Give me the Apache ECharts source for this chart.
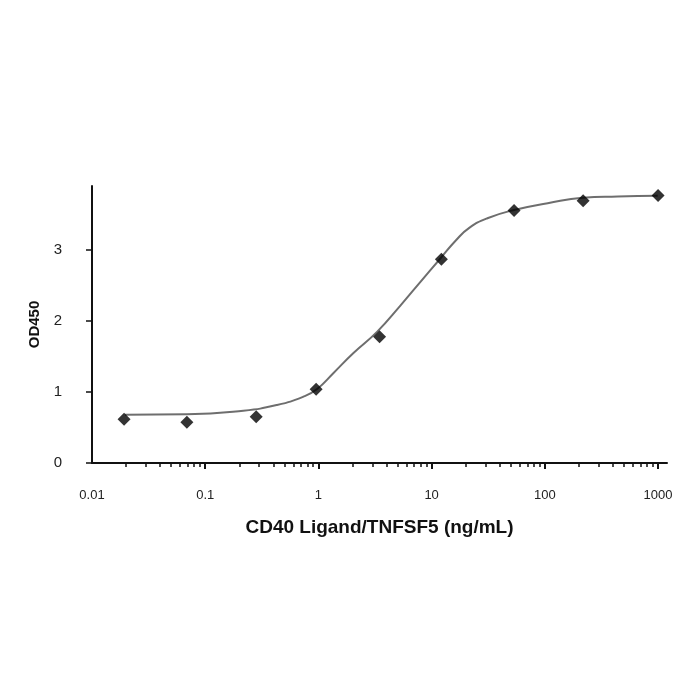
<!DOCTYPE html>
<html>
<head>
<meta charset="utf-8">
<title>CD40 Ligand/TNFSF5 ELISA</title>
<script src="https://cdn.jsdelivr.net/npm/echarts@6/dist/echarts.min.js"></script>
<style>
    html, body { margin: 0; padding: 0; background: #fff; }
    #chart { width: 700px; height: 700px; }
</style>
</head>
<body>
<div id="chart"></div>
<script>
// Measured points (ng/mL vs OD450)
const concentration = [0.0192, 0.0689, 0.282, 0.954, 3.47, 12.2, 53.5, 218, 1000];
const od450 = [0.615, 0.573, 0.652, 1.038, 1.779, 2.869, 3.554, 3.694, 3.765];

// Fitted curve
const fitX = [0.0196, 0.0689, 0.217, 0.431, 0.737, 0.974, 1.36, 2.04, 3.31, 5.32, 8.0, 12.0, 16.5, 21.5, 31.1, 53.5, 106, 216, 440, 993];
const fitY = [0.68, 0.685, 0.737, 0.817, 0.934, 1.042, 1.268, 1.549, 1.85, 2.22, 2.554, 2.883, 3.14, 3.31, 3.446, 3.563, 3.658, 3.735, 3.751, 3.761];

// Axis ticks
const xLabels = [0.01, 0.1, 1, 10, 100, 1000];
const xMajorTicks = [0.1, 1, 10, 100, 1000];
const xDecades = [0.01, 0.1, 1, 10, 100];
const yTicks = [0, 1, 2, 3];

const xMinorTicks = [];
for (const d of xDecades) {
    for (let k = 2; k <= 9; k++) {
        xMinorTicks.push(+(k * d).toPrecision(3));
    }
}

const font = 'Liberation Sans, Arial, sans-serif';
const chart = echarts.init(document.getElementById('chart'));

chart.setOption({
    backgroundColor: '#fff',
    animation: false,
    grid: { left: 92, right: 33, top: 186, bottom: 237 },
    xAxis: [{
        type: 'log',
        logBase: 10,
        min: 0.01,
        max: 1200,
        name: 'CD40 Ligand/TNFSF5 (ng/mL)',
        nameLocation: 'middle',
        nameGap: 55,
        nameTextStyle: { fontFamily: font, fontSize: 19, fontWeight: 'bold', color: '#111' },
        axisLine: { show: true, lineStyle: { color: '#111', width: 2 } },
        axisTick: { show: true, customValues: xMajorTicks, length: 6, lineStyle: { color: '#111', width: 2 } },
        axisLabel: {
            customValues: xLabels,
            margin: 26,
            fontFamily: font,
            fontSize: 13,
            color: '#222',
            formatter: v => String(v)
        },
        splitLine: { show: false },
        minorTick: { show: false }
    }, {
        // minor ticks only
        type: 'log',
        logBase: 10,
        min: 0.01,
        max: 1200,
        position: 'bottom',
        axisLine: { show: false },
        axisTick: { show: true, customValues: xMinorTicks, length: 4, lineStyle: { color: '#111', width: 1.5 } },
        axisLabel: { show: false },
        splitLine: { show: false }
    }],
    yAxis: {
        type: 'value',
        min: 0,
        max: 3.9,
        name: 'OD450',
        nameLocation: 'middle',
        nameGap: 40,
        nameTextStyle: { fontFamily: font, fontSize: 15, fontWeight: 'bold', color: '#111' },
        axisLine: { show: true, lineStyle: { color: '#111', width: 2 } },
        axisTick: { show: true, customValues: yTicks, length: 6, lineStyle: { color: '#111', width: 1.5 } },
        axisLabel: { customValues: yTicks, margin: 30, fontFamily: font, fontSize: 15, color: '#222' },
        splitLine: { show: false }
    },
    series: [{
        name: 'Fit',
        type: 'line',
        data: fitX.map((x, i) => [x, fitY[i]]),
        smooth: 0.5,
        showSymbol: false,
        lineStyle: { color: '#6e6e6e', width: 2 },
        z: 2
    }, {
        name: 'OD450',
        type: 'scatter',
        data: concentration.map((x, i) => [x, od450[i]]),
        symbol: 'diamond',
        symbolSize: 13,
        itemStyle: { color: '#000' },
        z: 3
    }]
});
</script>
</body>
</html>
